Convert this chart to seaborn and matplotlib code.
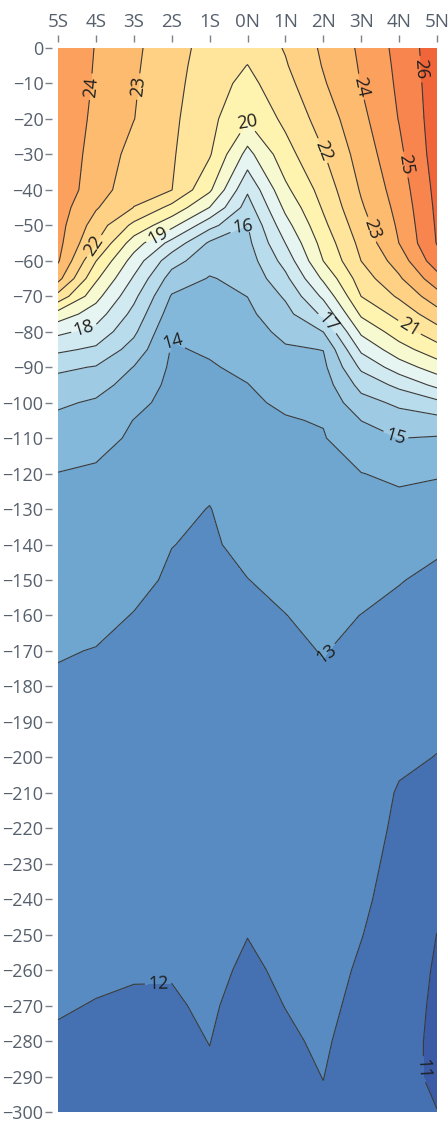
import numpy as np
import matplotlib
matplotlib.use("Agg")
import matplotlib.pyplot as plt
import seaborn as sns

# ---- data (temperature, deg C) ----
lat = [-5, -4, -3, -2, -1, 0, 1, 2, 3, 4, 5]
lat_labels = ["5S", "4S", "3S", "2S", "1S", "0N", "1N", "2N", "3N", "4N", "5N"]
depth = [0, 5, 10, 20, 30, 40,
         45, 50, 55, 60, 65, 70, 75, 80, 85, 90, 95, 100, 105, 110,
         120, 130, 140, 150, 160, 170, 180, 190, 200, 210, 220, 230, 240,
         250, 260, 270, 280, 290, 300]

t_5s = [24.75, 24.73, 24.70, 24.65, 24.60, 24.55,
        24.47, 24.38, 24.30, 24.11, 23.33, 21.67, 19.60, 18.22, 17.20, 16.20, 15.62, 15.14, 14.80, 14.51,
        13.98, 13.79, 13.60, 13.42, 13.23, 13.04, 12.92, 12.82, 12.73, 12.63, 12.53, 12.43, 12.33,
        12.24, 12.14, 12.04, 11.94, 11.85, 11.75]
t_4s = [23.96, 23.93, 23.90, 23.81, 23.68, 23.55,
        23.09, 22.56, 22.02, 21.03, 20.17, 19.33, 18.50, 17.67, 16.82, 15.94, 15.35, 14.88, 14.56, 14.25,
        13.89, 13.70, 13.52, 13.33, 13.15, 12.98, 12.88, 12.78, 12.68, 12.58, 12.48, 12.38, 12.28,
        12.18, 12.08, 11.98, 11.88, 11.78, 11.68]
t_3s = [23.20, 23.15, 23.10, 23.02, 22.65, 22.30,
        21.98, 20.75, 19.50, 18.57, 17.88, 17.25, 16.70, 16.20, 15.60, 14.97, 14.62, 14.28, 13.98, 13.89,
        13.70, 13.52, 13.33, 13.15, 12.98, 12.89, 12.79, 12.70, 12.60, 12.51, 12.42, 12.32, 12.23,
        12.13, 12.04, 11.94, 11.85, 11.75, 11.66]
t_2s = [22.38, 22.33, 22.29, 22.20, 22.11, 22.02,
        20.71, 19.29, 17.67, 16.40, 15.57, 14.92, 14.50, 14.08, 13.93, 13.85, 13.76, 13.68, 13.59, 13.51,
        13.34, 13.17, 13.01, 12.92, 12.84, 12.76, 12.68, 12.60, 12.52, 12.44, 12.35, 12.27, 12.19,
        12.11, 12.03, 11.95, 11.87, 11.79, 11.71]
t_1s = [21.65, 21.56, 21.47, 21.28, 21.10, 20.17,
        18.98, 17.33, 15.85, 15.35, 14.94, 14.72, 14.51, 14.30, 14.09, 13.93, 13.80, 13.68, 13.55, 13.43,
        13.18, 12.98, 12.92, 12.85, 12.79, 12.72, 12.66, 12.59, 12.53, 12.46, 12.40, 12.33, 12.27,
        12.20, 12.14, 12.07, 12.01, 11.94, 11.88]
t_0n = [21.30, 20.98, 20.70, 20.10, 18.67, 17.14,
        16.56, 15.98, 15.75, 15.50, 15.25, 15.01, 14.79, 14.58, 14.38, 14.17, 13.98, 13.89, 13.80, 13.71,
        13.53, 13.35, 13.16, 12.99, 12.89, 12.79, 12.70, 12.60, 12.50, 12.40, 12.30, 12.21, 12.11,
        12.01, 11.91, 11.81, 11.72, 11.62, 11.52]
t_1n = [22.07, 21.91, 21.68, 21.23, 20.62, 19.78,
        19.22, 18.63, 18.01, 17.38, 16.75, 16.13, 15.67, 15.25, 14.89, 14.63, 14.37, 14.11, 13.95, 13.86,
        13.68, 13.51, 13.33, 13.16, 12.99, 12.90, 12.81, 12.72, 12.63, 12.54, 12.45, 12.36, 12.27,
        12.18, 12.09, 12.01, 11.91, 11.82, 11.73]
t_2n = [23.17, 23.06, 22.90, 22.43, 21.94, 21.39,
        21.11, 20.77, 20.38, 20.01, 19.17, 18.20, 17.20, 16.01, 15.02, 14.76, 14.52, 14.29, 14.05, 13.94,
        13.78, 13.63, 13.48, 13.32, 13.17, 13.02, 12.93, 12.84, 12.76, 12.68, 12.59, 12.51, 12.43,
        12.34, 12.26, 12.18, 12.09, 12.01, 11.92]
t_3n = [24.17, 24.10, 24.03, 23.74, 23.42, 23.10,
        22.88, 22.59, 22.29, 22.01, 21.50, 21.01, 20.17, 19.20, 18.20, 17.20, 16.33, 15.63, 15.01, 14.64,
        13.98, 13.73, 13.48, 13.23, 12.99, 12.88, 12.77, 12.67, 12.56, 12.45, 12.34, 12.24, 12.13,
        12.02, 11.91, 11.81, 11.70, 11.59, 11.48]
t_4n = [25.30, 25.23, 25.17, 25.04, 24.78, 24.47,
        24.31, 24.16, 24.01, 23.44, 22.86, 22.14, 21.33, 20.50, 19.60, 18.50, 17.25, 16.20, 15.56, 15.01,
        14.17, 13.72, 13.38, 13.03, 12.84, 12.67, 12.49, 12.32, 12.14, 11.93, 11.85, 11.76, 11.70,
        11.66, 11.60, 11.53, 11.45, 11.38, 11.30]
t_5n = [26.60, 26.57, 26.55, 26.50, 26.45, 26.29,
        26.21, 26.13, 26.05, 25.60, 24.60, 23.60, 22.60, 21.60, 20.60, 19.50, 18.25, 16.75, 15.67, 14.92,
        14.08, 13.57, 13.10, 12.86, 12.68, 12.51, 12.33, 12.16, 11.98, 11.78, 11.59, 11.39, 11.20,
        10.99, 10.88, 10.80, 10.75, 10.78, 11.02]

fill_levels = list(range(10, 28))
line_levels = list(range(11, 27))

# label anchor points (lat, depth) as placed in the reference
label_lat = [-4.08, -2.76, 0.0, 1.97, 2.97, 4.53, 4.10, -4.02, -2.36, -0.15, 3.31,
             -4.29, -1.83, 2.18, 4.23, 3.89, 2.10, -2.36, 4.62]
label_dep = [-11, -11, -21, -29, -11, -6, -33, -56, -53, -50, -51,
             -80, -80, -77, -79.5, -110, -171, -263, -288]

# ---- style ----
band_colors = ["#3b5ba7", "#4571b3", "#588bc1", "#6ea6d0", "#84b8da", "#9fcae3",
               "#b9dcec", "#d1e9f0", "#e6f4f2", "#f7fad0", "#fff3b0", "#fee59b",
               "#fed185", "#fdbb6f", "#fba15d", "#f7854d", "#f0663a"]

sns.set_theme(style="white")
plt.rcParams["font.family"] = ["Open Sans", "DejaVu Sans"]

W, H = 448, 1124
fig = plt.figure(figsize=(W / 100, H / 100), dpi=100)
ax = fig.add_axes([58 / W, 12 / H, 379 / W, 1064 / H])

X, Y = np.meshgrid(lat, -np.array(depth, dtype=float))
T = np.column_stack([t_5s, t_4s, t_3s, t_2s, t_1s, t_0n, t_1n, t_2n, t_3n, t_4n, t_5n])

ax.contourf(X, Y, T, levels=fill_levels, colors=band_colors)
cs = ax.contour(X, Y, T, levels=line_levels, colors="#3a3a3a", linewidths=0.8)
ax.set_xlim(-5, 5)
ax.set_ylim(-300, 0)
ax.clabel(cs, fmt="%d", manual=list(zip(label_lat, label_dep)), inline=True,
          inline_spacing=3, fontsize=13, colors="#1e1e1e")

ax.xaxis.tick_top()
ax.set_xticks(lat)
ax.set_xticklabels(lat_labels)
ax.set_yticks(np.arange(-300, 1, 10))
for side in ["left", "top"]:
    ax.spines[side].set_position(("outward", 4))
for s in ax.spines.values():
    s.set_visible(False)
ax.tick_params(axis="both", which="major", length=5, width=1, color="#7a828c",
               labelcolor="#56606c", labelsize=13, pad=1.5)
ax.tick_params(axis="x", top=True, bottom=False, labelsize=13.5, pad=3)
ax.tick_params(axis="y", left=True, right=False)
ax.grid(False)

fig.savefig("out.png", dpi=100)
